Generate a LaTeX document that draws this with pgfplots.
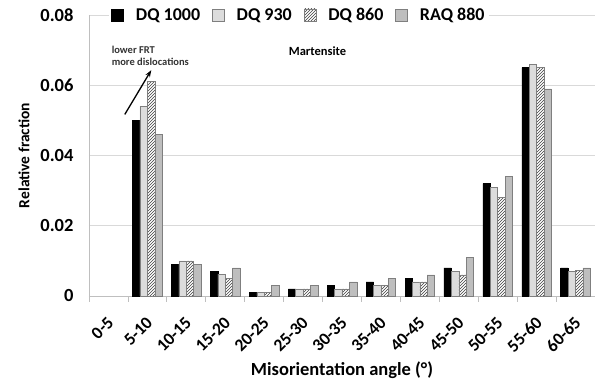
\documentclass[border=0pt]{standalone}
\usepackage{fontspec}
\setmainfont{Carlito}
\usepackage{pgfplots}
\pgfplotsset{compat=1.18}
\usetikzlibrary{patterns,arrows.meta}
\definecolor{gridc}{HTML}{D9D9D9}
\definecolor{axc}{HTML}{BFBFBF}
\definecolor{lgray}{HTML}{DCDCDC}
\definecolor{mgray}{HTML}{BEBEBE}
\definecolor{edge}{HTML}{7F7F7F}
\begin{document}
\begin{tikzpicture}
\begin{axis}[
  scale only axis,
  width=506pt, height=281pt,
  xmin=-0.5, xmax=12.5,
  ymin=0, ymax=0.08,
  scaled y ticks=false,
  ytick={0,0.02,0.04,0.06,0.08},
  yticklabels={0,0.02,0.04,0.06,0.08},
  xtick={0,...,12},
  xticklabels={0-5,5-10,10-15,15-20,20-25,25-30,30-35,35-40,40-45,45-50,50-55,55-60,60-65},
  x tick label style={xshift=-2pt, yshift=-18pt, rotate=45, anchor=north east, font=\fontsize{17.5}{19}\selectfont\bfseries, inner sep=1pt},
  y tick label style={font=\fontsize{18.5}{20}\selectfont\bfseries, xshift=-12pt},
  /pgf/number format/assume math mode=true,
  ymajorgrids, grid style={gridc, line width=0.8pt},
  axis x line*=bottom, axis y line*=left,
  axis line style={axc, line width=0.8pt},
  x axis line style={-}, y axis line style={-},
  extra x ticks={-0.5,0.5,...,12.5}, extra x tick labels={},
  extra x tick style={major tick length=6pt, tick style={axc, line width=0.8pt}, tick pos=bottom, tick align=outside, grid=none},
  major tick length=0pt,
  ytick style={draw=none},
  xlabel={Misorientation angle (°)},
  ylabel={Relative fraction},
  xlabel style={font=\fontsize{18.5}{20}\selectfont\bfseries, yshift=2pt},
  ylabel style={font=\fontsize{15.5}{17}\selectfont\bfseries, yshift=4pt},
  ybar, bar width=0.19,
  legend columns=4,
  legend style={at={(rel axis cs:0.04,1.0)}, anchor=west, draw=none, fill=white,
    font=\fontsize{18}{20}\selectfont\bfseries, column sep=10pt, inner xsep=2pt, inner ysep=3pt},
  legend image code/.code={\draw[#1, line width=0.5pt] (0pt,-6pt) rectangle (12pt,6pt);},
  clip=false,
]
\addplot[fill=black, draw=black, line width=0.5pt, bar shift=-0.285] coordinates {
(1,0.050) (2,0.009) (3,0.007) (4,0.001) (5,0.002) (6,0.003) (7,0.004) (8,0.005) (9,0.008) (10,0.032) (11,0.065) (12,0.008)};
\addplot[fill=lgray, draw=edge, line width=0.5pt, bar shift=-0.095] coordinates {
(1,0.054) (2,0.010) (3,0.0062) (4,0.001) (5,0.002) (6,0.002) (7,0.003) (8,0.004) (9,0.007) (10,0.031) (11,0.066) (12,0.007)};
\addplot[fill=white, draw=edge, line width=0.5pt, bar shift=0.095, postaction={pattern=north east lines, pattern color=black!75}] coordinates {
(1,0.061) (2,0.010) (3,0.005) (4,0.001) (5,0.002) (6,0.002) (7,0.003) (8,0.004) (9,0.006) (10,0.028) (11,0.065) (12,0.0072)};
\addplot[fill=mgray, draw=edge, line width=0.5pt, bar shift=0.285] coordinates {
(1,0.046) (2,0.009) (3,0.008) (4,0.003) (5,0.003) (6,0.004) (7,0.005) (8,0.006) (9,0.011) (10,0.034) (11,0.059) (12,0.008)};
\legend{DQ 1000, DQ 930, DQ 860, RAQ 880}
\node[anchor=west, font=\fontsize{10.5}{12}\selectfont\bfseries, align=left, inner sep=0pt, text=black!80] at (axis cs:0.08,0.0685) {lower FRT\\more dislocations};
\node[anchor=center, font=\fontsize{12.5}{14}\selectfont\bfseries, inner sep=0pt] at (axis cs:5.37,0.0697) {Martensite};
\draw[-{Stealth[length=7pt,width=5pt]}, line width=1.3pt] (axis cs:0.42,0.0517) -- (axis cs:1.1,0.0643);
\coordinate (TL) at (rel axis cs:0,1);
\coordinate (BR) at (rel axis cs:1,0);
\end{axis}
\pgfresetboundingbox
\path[use as bounding box] ([shift={(-89pt,15pt)}]TL) rectangle ([shift={(0pt,-93pt)}]BR);
\end{tikzpicture}
\end{document}
